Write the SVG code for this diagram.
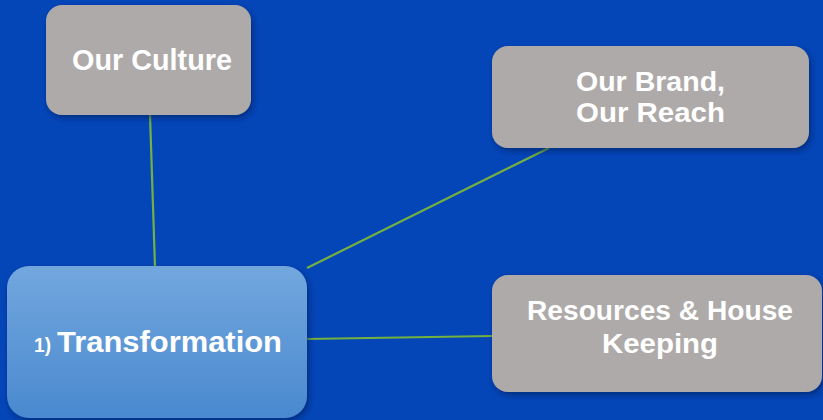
<svg xmlns="http://www.w3.org/2000/svg" width="823" height="420" viewBox="0 0 823 420">
<defs>
<linearGradient id="blueGrad" x1="0" y1="0" x2="0" y2="1">
<stop offset="0" stop-color="#72a7de"/>
<stop offset="1" stop-color="#4a89cf"/>
</linearGradient>
<filter id="shadow" x="-10%" y="-10%" width="125%" height="130%">
<feDropShadow dx="2" dy="3" stdDeviation="3" flood-color="#001a55" flood-opacity="0.6"/>
</filter>
</defs>
<style>
.gray{fill:#aeaaa9;filter:url(#shadow)}
.lbl{font-family:"Liberation Sans",Arial,sans-serif;font-weight:bold;fill:#ffffff}
.conn{stroke:#74b040;stroke-width:2.2;fill:none}
</style>
<rect width="823" height="420" fill="#0446b8"/>
<g id="connectors">
<line class="conn" x1="150" y1="115" x2="155" y2="267"/>
<line class="conn" x1="307" y1="268" x2="549" y2="148"/>
<line class="conn" x1="306" y1="339" x2="493" y2="336"/>
</g>
<g id="node-culture">
<rect class="gray" x="46" y="5" width="205" height="110" rx="16"/>
<text class="lbl" x="72" y="70" font-size="29" textLength="160" lengthAdjust="spacingAndGlyphs">Our Culture</text>
</g>
<g id="node-brand">
<rect class="gray" x="492" y="46" width="317" height="102" rx="16"/>
<text class="lbl" x="576" y="91" font-size="28" textLength="149" lengthAdjust="spacingAndGlyphs">Our Brand,</text>
<text class="lbl" x="576" y="122" font-size="28" textLength="149" lengthAdjust="spacingAndGlyphs">Our Reach</text>
</g>
<g id="node-resources">
<rect class="gray" x="492" y="275" width="330" height="117" rx="16"/>
<text class="lbl" x="527" y="320" font-size="27" textLength="266" lengthAdjust="spacingAndGlyphs">Resources &amp; House</text>
<text class="lbl" x="602" y="353" font-size="27" textLength="116" lengthAdjust="spacingAndGlyphs">Keeping</text>
</g>
<g id="node-transformation">
<rect x="7" y="266" width="300" height="152" rx="22" fill="url(#blueGrad)" filter="url(#shadow)"/>
<text class="lbl" x="34" y="352" font-size="20" textLength="17" lengthAdjust="spacingAndGlyphs">1)</text>
<text class="lbl" x="57" y="352" font-size="30" textLength="225" lengthAdjust="spacingAndGlyphs">Transformation</text>
</g>
</svg>
